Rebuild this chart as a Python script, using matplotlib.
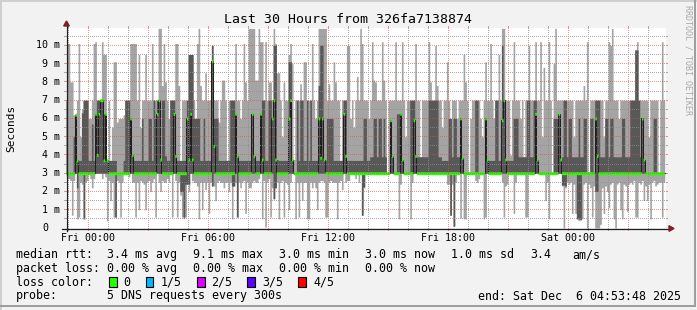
import numpy as np
import matplotlib
matplotlib.use("Agg")
import matplotlib.pyplot as plt
from matplotlib.patches import Polygon, Rectangle
from matplotlib.lines import Line2D
from matplotlib.transforms import Affine2D

# ---------------- data (5-minute steps, 30 hours) ----------------
# times are hours relative to Fri 00:00; first step starts Thu 22:50
step_start = -1.0 - 10.0 / 60.0
step_hours = 5.0 / 60.0

median = [
    3,3,3,3,3,3,6.2,3.7,3,3, 3,3,3,3,3,3,3,3,6.25,4.0,
    6.25,7.0,7.0,3.7,6.25,3.7,3,3,3,3, 3,3,3,3,3,3,3,3,3,6.0,
    4.0,3,3,3,3,3,3,3,3,3, 3,3,3,3,3,6.25,7.0,3.75,3,3,
    3,3,3,3,3,6.25,3.95,3,3,3, 3,3,3,6.0,3.75,6.25,3.75,3,3,3,
    3,3,3,3,3,3,3,3,9.15,4.5, 3,3,3,3,3,3,3,3,3,3,
    3,3,6.25,3.95,3,3,3,3,3,3, 3,3,6.25,3.95,3,3,3,6.25,3.75,3,
    3,3,3,3,6.0,7.0,3.75,3,3,3, 3,3,3,3,6.0,7.0,3.75,3,3,3,
    3,3,3,3,3,3,3,3,3,3, 3,3,6.0,3.85,6.0,3.75,3,3,3,3,
    3,3,3,3,3,3,3,6.25,3.95,3, 3,3,3,3,3,3,3,3,3,3,
    3,3,3,3,3,3,3,3,3,3, 3,3,3,3,3,5.9,3.95,3,3,3,
    3,6.25,3.75,3,3,3,3,3,3,5.9, 3.95,3,3,3,3,3,3,3,3,3,
    3,3,3,3,3,3,3,3,3,3, 3,3,3,3,3,3,3,6.0,3.85,3,
    3,3,3,3,3,3,3,3,3,3, 3,3,6.0,3.75,3,3,3,3,3,3,
    3,3,5.9,7.0,3.75,3,3,3,3,3, 3,3,3,3,3,3,3,3,3,3,
    3,3,6.25,3.75,3,3,3,3,3,3, 3,3,3,3,3,3,6.25,3.75,3,3,
    3,3,3,3,3,3,3,3,3,3, 3,3,3,3,3,3,3,3,6.0,3.95,
    3,3,3,3,3,3,3,3,3,3, 3,3,3,3,3,3,3,3,3,3,
    3,3,3,3,3,3,6.0,3.75,3,3, 3,3,3,3,3,3,3,3,3,3,
]

ping_max = [  # highest of the 5 pings
    7,10.1,10.1,8,8,6.2,6.2,7,10.1,5, 6.5,7,7,7,6,6,7,10.1,10.2,7,
    7,7,10.2,9.5,9.5,3.7,7,3.7,5.5,9.1, 9.1,5.8,6,6,6,6.2,7,7,7,10.1,
    10.1,10.1,10.1,7,9.5,5.5,7,7,9.5,7, 7,7,10.1,7,7,7,10.93,10.93,7.8,10.1,
    8,7,6,7,7,7,10.1,10.1,7.8,3.7, 7,7,7,7,9.5,9.5,9.5,7,6,10.1,
    10.93,7.8,7,7,8.5,7,7,7,10.0,7, 7,7,5.8,7,8.1,8.1,7,3.7,7,7,
    7,7,10.1,7,7,6,7,10.1,8,7, 10.93,10.93,10.93,10.93,8.1,8.1,10.93,10.2,10.2,7,
    10.2,7,8,8,7,10.93,10.1,8.5,8.5,7, 5,8,7,7,9.5,10.1,9,3.75,7,7,
    7,7.9,7,9.1,9.1,7,7,7,10.1,7, 6,7,10.93,10.93,10.93,10.93,10.93,7,7.9,7,
    7,9.1,8,7,7,3.7,7,7,7,10.0, 10.0,6,7,5.5,7,8.3,7,10.93,10.1,7,
    7,7,6,7,10.2,8.1,8,7,7,7, 10.2,8.1,7,3.0,7,7,7,7,10.2,7,
    7,7,10.2,7,5,7,7,7,7,7, 10.1,7,7,3.9,7,7,7,7,10.2,8,
    7,7,10,7.8,7,7,5.5,7,7,9.1, 7,6,7,7,7,6,7,7,7,9.5,
    8,7,3.0,6,7,7,7,7,7,6, 5,7,9.1,7,7,10.1,7,6,7,7,
    9.5,7,10.93,10.93,7,7,7,4,7,10.2, 7,7,7,6,7,3.9,7,7,10.0,7,
    7,7,10.2,7,7,10.2,5,8.8,7,7, 10.2,7,3.0,9.0,10.93,7,7,7,7,7,
    7,7,7,7,7,5,7,7,7,7, 7,7.8,7,10.2,3.0,7,7,7,7,7,
    7,7,7,5,7,7,10.2,10.0,10.93,7, 7,7,6,7,7,7,7,7,7,7,
    7,7,9.75,10.2,7,7,7,7,7,7, 5,7,7,7,7,7,3.0,7,10.2,7,
]

ping_4th = [  # 4th of the 5 sorted pings
    3,3,3,3,3,5,6.2,3.7,3.7,3.7, 6.3,7,7,7,3.7,3.7,5.7,3.7,6.25,7,
    7,7,7,6.25,6.25,3.7,3.7,3.7,3.7,3.7, 3.7,3,3,3,3,3.7,7,7,7,6,
    4,3.7,3.7,3.7,3.7,3.7,6,3.7,3.7,3.7, 6,6,3.7,7,6,7,7,3.75,7,7,
    3.95,3.7,3.7,7,7,7,3.95,3.7,3.7,3.7, 3.7,3.7,3.7,7,9.55,9.55,9.55,6,6,6,
    6,3.7,3.7,6,3.7,3.7,3.7,3.7,10.0,6, 6,6,3.7,3.7,3.7,3.7,3.7,3.7,3.7,7,
    7,7,6.25,3.95,3.7,3.7,3.7,3.7,3.7,3.7, 3.7,3.7,6.25,3.95,3.7,3.7,3.7,6.25,7,7,
    3.7,3.7,7,7,6,10,10,3.75,3.7,3.7, 3.7,3.7,3.7,3.7,9.1,9.1,3.75,3,3,7,
    3.7,7,7,3.7,3.7,7,3.7,7,3.7,3.7, 3.7,3.7,7.8,10,10,3.75,3.7,6,6,6,
    6,3.7,3.7,3.7,3.7,3.7,3.7,7,7,3.7, 3.7,3.7,3.7,3.7,3.7,3.7,3.7,3.7,3.7,6,
    6,3.7,3.7,3.9,3.9,6,6,3.9,6,6, 3.9,6,3.9,3,3,5.9,3.95,3,3,6.25,
    6.25,6.25,3.75,3,3,3,3,7,7,7, 3.95,3.9,3.9,3.9,3.9,3.9,3.9,3.9,7,7,
    7,7,7,7,3.9,3.9,3.7,3.7,3.7,3.7, 6,6,3.9,6,6,3.9,3.9,6,3.85,3,
    3,3,3,3,3,3,7,7,3,3, 3,3,6,3.75,3.7,3.7,3.7,3.7,7,7,
    3.7,3.7,10,7,3.75,3.7,3.7,3.7,3.7,6, 6,6,3.9,3.9,3.9,3.9,3.9,7,7,3.9,
    3.9,7,7,3.75,3,3,3,3,3,3, 3,3,3,6,6,6,6.25,3.75,3.9,7,
    7,3.9,6,6,3.9,3.9,3.9,3.9,6,3.9, 3.9,6,6,3,3,6,6,3,7,7,
    7,3.9,3.9,3.9,6,6,3.9,6,6,3.9, 3.9,3.9,3.9,3.9,6,6,3.9,3.9,3.9,7,
    7,7,9.75,9.75,7,3.9,6,3.75,3,3, 3,3,3,6,6,3,3,3,3,3,
]

ping_2nd = [  # 2nd of the 5 sorted pings
    3,3,3,3,3,3,3,2.2,3,3, 3,0.5,3,3,3,3,3,3,3,3,
    3,3,3,3,3,3,3,3,3,3, 0.6,3,3,3,3,3,3,3,3,3,
    3,3,3,3,3,3,3,3,3,3, 3,3,3,3,3,3,3,3,3,3,
    3,3,3,3,3,3,3,3,3,2.0, 2.0,0.6,2.4,2.4,2.4,3,3,3,3,3,
    3,3,3,3,3,3,3,3,2.3,3, 3,3,3,3,3,3,3,3,3,3,
    2.3,2.3,3,0.6,3,3,3,3,3,3, 3,3,3,3,3,3,3,3,3,3,
    3,3,3,3,3,1.6,2.2,3,3,3, 3,3,3,3,3,3,3,3,3,3,
    3,3,3,3,3,3,3,3,3,3, 3,3,3,3,3,3,3,3,3,3,
    3,3,3,3,3,3,3,3,3,3, 3,3,3,3,3,3,3,3,0.7,2.25,
    3,3,3,3,3,3,3,3,3,3, 3,3,3,3,3,3,3,3,3,3,
    3,3,3,3,3,3,3,3,3,3, 3,3,3,3,3,3,3,3,3,3,
    3,3,3,3,3,3,3,3,3,3, 3,0.7,3,0.1,3,3,3,3,3,3,
    3,3,3,3,3,3,3,3,3,3, 3,3,3,3,3,3,3,3,3,3,
    3,3,3,3,3,3,3,3,3,3, 3,3,3,3,3,3,3,3,3,3,
    3,3,3,3,3,3,3,3,3,3, 3,3,3,3,3,3,3,3,2.35,2.35,
    2.3,3,3,3,3,3,3,0.5,0.5,0.45, 3,3,3,3,3,3,3,3,2.0,2.0,
    3,3,3,3,3,3,3,3,3,3, 3,3,3,3,3,3,3,3,3,3,
    3,3,3,3,3,3,3,3,3,3, 3,3,3,3,3,3,3,3,3,3,
]

ping_min = [  # lowest of the 5 pings
    3.0,2.7,2.7,2.6,0.7,2.6,3.0,0.5,0.6,2.5, 2.4,0.5,2.5,2.6,3.0,2.7,2.2,2.7,3.0,3.0,
    3.0,3.0,2.7,3.0,2.8,0.4,2.6,1.5,2.5,0.6, 0.6,2.6,2.5,0.6,2.5,3.0,3.0,3.0,2.8,3.0,
    2.5,2.5,0.6,2.5,1.0,2.6,2.5,2.4,1.0,2.5, 2.6,2.0,2.5,2.7,0.6,3.0,2.5,2.0,2.6,2.5,
    2.5,2.7,2.5,3.0,0.6,3.0,2.6,0.6,2.5,1.8, 0.6,0.5,0.6,2.4,2.0,3.0,2.6,2.5,2.5,2.3,
    0.5,2.5,1.0,2.5,2.1,2.5,0.8,2.5,2.3,2.3, 1.5,2.5,2.6,2.5,2.5,2.2,2.5,2.5,2.0,2.5,
    0.5,2.3,2.5,0.6,2.5,2.2,2.5,2.6,0.8,2.5, 2.2,2.2,2.5,2.6,2.5,2.5,2.7,3.0,0.5,2.6,
    0.05,2.5,2.7,0.6,2.2,1.6,2.2,2.5,0.5,2.5, 2.6,0.6,2.5,2.4,1.0,2.5,3.0,3.0,0.5,2.5,
    0.6,2.5,1.5,2.5,2.5,0.5,0.5,2.5,2.2,2.5, 2.2,1.0,2.5,2.6,2.6,2.5,0.6,0.6,2.5,2.6,
    2.5,2.5,2.5,0.5,2.5,2.6,2.1,3.0,2.5,2.6, 2.6,3.0,3.0,3.0,2.7,3.0,2.5,3.0,0.7,2.2,
    3,3,3,3,3,3,3,3,3,3, 3,3,3,3,3,3,3,3,3,3,
    0.5,2.4,3,3,3,3,3,0.5,2.5,3, 3,3,3,3,3,3,3,3,3,3,
    3,3,3,3,3,3,3,3,3,2.4, 2.4,0.7,2.4,0.1,2.5,3,3,0.55,3,0.5,
    0.5,3,3,3,3,3,2.6,2.5,2.7,3, 3,0.5,0.6,3,3,3,3,3,3,3,
    3,3,2.5,0.6,2.3,2.4,3,3,3,0.8, 2.5,3,3,3,3,3,0.6,0.6,3,3,
    3,3,3,3,3,3,3,3,1.5,2.5, 0.5,3,3,3,3,3,3,3,2.3,0.0,
    2.2,2.5,2.4,2.5,0.8,2.4,0.8,0.5,0.4,0.45, 0.5,2.4,2.5,0.0,2.4,2.2,0.6,2.3,0.0,0.0,
    0.0,0.2,2.2,0.8,2.3,2.0,1.1,2.4,2.5,0.5, 0.0,2.4,2.5,1.0,0.5,2.4,2.3,0.9,2.4,2.5,
    2.4,2.6,0.6,0.6,2.5,2.4,2.6,1.5,2.3,1.5, 2.4,0.5,2.5,2.6,2.3,2.4,2.5,2.5,0.6,2.5,
]

y_tick_values = [1, 2, 3, 4, 5, 6, 7, 8, 9, 10]
x_label_hours = [0, 6, 12, 18, 24]
x_labels = ["Fri 00:00", "Fri 06:00", "Fri 12:00", "Fri 18:00", "Sat 00:00"]
title = "Last 30 Hours from 326fa7138874"
legend_rtt = [("median rtt:", 16), ("3.4 ms avg", 107.3), ("9.1 ms max", 193),
              ("3.0 ms min", 279.3), ("3.0 ms now", 365), ("1.0 ms sd", 451),
              ("3.4", 530), ("am/s", 572)]
legend_loss = [("packet loss:", 16), ("0.00 % avg", 107.3), ("0.00 % max", 193),
               ("0.00 % min", 279.3), ("0.00 % now", 365)]
loss_labels = ["0", "1/5", "2/5", "3/5", "4/5"]
loss_colors = ["#26ff00", "#00b8ff", "#dd00ff", "#5e00ff", "#ff0000"]
probe_text = "5 DNS requests every 300s"
end_text = "end: Sat Dec  6 04:53:48 2025"

# ---------------- figure ----------------
W, H = 697, 310
FONT = "DejaVu Sans Mono"
plt.rcParams["font.family"] = [FONT, "DejaVu Sans"]
fig = plt.figure(figsize=(W / 100, H / 100), dpi=100)
fig.patch.set_facecolor("#f2f2f2")
pix = Affine2D().scale(1.0 / W, -1.0 / H).translate(0, 1) + fig.transFigure

AX_L, AX_T, AX_W, AX_H = 66.0, 28.0, 600.0, 200.0
ax = fig.add_axes([AX_L / W, 1 - (AX_T + AX_H) / H, AX_W / W, AX_H / H])
ax.set_facecolor("white")
x_start = -1.1033
ax.set_xlim(x_start, x_start + 30)
YMAX = 10.95
ax.set_ylim(0, YMAX)
for s in ax.spines.values():
    s.set_visible(False)
ax.set_xticks([])
ax.set_yticks([])

n = len(median)
edges = step_start + np.arange(n + 1) * step_hours
med = np.array(median, float)
p5 = np.maximum(np.array(ping_max, float), med)
p4 = np.minimum(np.maximum(np.array(ping_4th, float), med), p5)
p2 = np.minimum(np.array(ping_2nd, float), med)
p1 = np.minimum(np.array(ping_min, float), p2)

def ext(a):
    return np.append(a, a[-1])

ax.fill_between(edges, ext(p1), ext(p5), step="post", color="#a4a4a4", lw=0, zorder=1)
ax.fill_between(edges, ext(p2), ext(p4), step="post", color="#585858", lw=0, zorder=2)
ax.step(edges, ext(med), where="post", color="#202020", lw=0.75, zorder=6)
sw = 0.08
ax.fill_between(edges, ext(med - sw), ext(med + sw), step="post", color="#26ff00", lw=0, zorder=7)

y0 = AX_T + AX_H

def ypx(v):
    return y0 - v / YMAX * AX_H

def xpx(h):
    return AX_L + (h - x_start) / 30.0 * AX_W

# grid as exact pixel dots (1 on / 1 off) with solid 2px stubs outside canvas
grid_minor = (0.56, 0.56, 0.56, 0.75)
grid_major = (0.87, 0.31, 0.31, 0.60)
gimg = np.zeros((H, W, 4))
top_i, bot_i = int(AX_T), int(y0) - 1
left_i, right_i = int(AX_L), int(AX_L + AX_W) - 1
for h in range(-1, 30):
    if x_start < h < x_start + 30:
        col = grid_major if h % 3 == 0 else grid_minor
        xi = int(np.floor(xpx(h)))
        for yi in range(top_i - 2, bot_i + 4):
            if yi < top_i or yi > bot_i or (yi % 2 == 0):
                gimg[yi, xi] = col
for k in range(1, 22):
    v = k * 0.5
    col = grid_major if k % 2 == 0 else grid_minor
    yi = int(np.floor(ypx(v)))
    if yi < top_i:
        continue
    for xi in range(left_i - 2, right_i + 3):
        if xi < left_i or xi > right_i or (xi % 2 == 0):
            gimg[yi, xi] = col
fig.figimage(gimg, xo=0, yo=0, origin="upper", zorder=1.5)

# axes lines and arrows
axis_col = "#1f1f1f"
arrow_col = "#801f1f"
fig.add_artist(Line2D([AX_L - 4, AX_L + AX_W + 3], [y0 + 0.5, y0 + 0.5], color=axis_col,
                      lw=0.9, transform=pix, zorder=3))
fig.add_artist(Line2D([AX_L + 0.5, AX_L + 0.5], [y0 + 3, AX_T - 3], color=axis_col,
                      lw=0.9, transform=pix, zorder=3))
fig.add_artist(Polygon([[AX_L + 0.5, AX_T - 7], [AX_L - 2.3, AX_T - 2], [AX_L + 3.3, AX_T - 2]],
                       closed=True, color=arrow_col, transform=pix, zorder=3))
fig.add_artist(Polygon([[AX_L + AX_W + 8, y0 + 0.5], [AX_L + AX_W + 3, y0 - 2.3], [AX_L + AX_W + 3, y0 + 3.3]],
                       closed=True, color=arrow_col, transform=pix, zorder=3))

# labels
for v in y_tick_values:
    fig.text(60.5, ypx(v), f"{v} m", ha="right", va="center", fontsize=7.2, transform=pix)
fig.text(45, ypx(0), "0", ha="center", va="center", fontsize=7.2, transform=pix)
for h, lab in zip(x_label_hours, x_labels):
    fig.text(xpx(h), 238, lab, ha="center", va="center", fontsize=7.2, transform=pix)

fig.text(347.5, 19.3, title, ha="center", va="center", fontsize=9.5, transform=pix)
fig.text(11, 128, "Seconds", rotation=90, ha="center", va="center", fontsize=8, transform=pix)
fig.text(688, 5, "RRDTOOL / TOBI OETIKER", rotation=270, ha="center", va="top",
         fontsize=6, color="#a8a8a8", transform=pix)

LF = 8.4
for txt, x in legend_rtt:
    fig.text(x, 254.7, txt, ha="left", va="center", fontsize=LF, transform=pix)
for txt, x in legend_loss:
    fig.text(x, 268.7, txt, ha="left", va="center", fontsize=LF, transform=pix)
fig.text(16, 282, "loss color:", ha="left", va="center", fontsize=LF, transform=pix)
box_x = [109, 145.5, 197, 247, 298]
text_x = [123.3, 160.5, 211.5, 262, 313]
for bx, tx, lab, col in zip(box_x, text_x, loss_labels, loss_colors):
    fig.add_artist(Rectangle((bx, 277), 7.5, 10, facecolor=col, edgecolor="black",
                             lw=0.8, transform=pix))
    fig.text(tx, 282, lab, ha="left", va="center", fontsize=LF, transform=pix)
fig.text(16, 296, "probe:", ha="left", va="center", fontsize=LF, transform=pix)
fig.text(107.3, 296, probe_text, ha="left", va="center", fontsize=LF, transform=pix)
fig.text(681, 296, end_text, ha="right", va="center", fontsize=LF, transform=pix)

# 3d frame
fig.add_artist(Rectangle((0, 0), W, 1.5, color="#cfcfcf", lw=0, transform=pix))
fig.add_artist(Rectangle((0, 0), 1.5, H, color="#cfcfcf", lw=0, transform=pix))
fig.add_artist(Rectangle((693.5, 0), 2, 307, color="#9e9e9e", lw=0, transform=pix))
fig.add_artist(Rectangle((0, 305.3), 695.5, 2, color="#9e9e9e", lw=0, transform=pix))

fig.savefig("out.png", dpi=100, facecolor=fig.get_facecolor())
